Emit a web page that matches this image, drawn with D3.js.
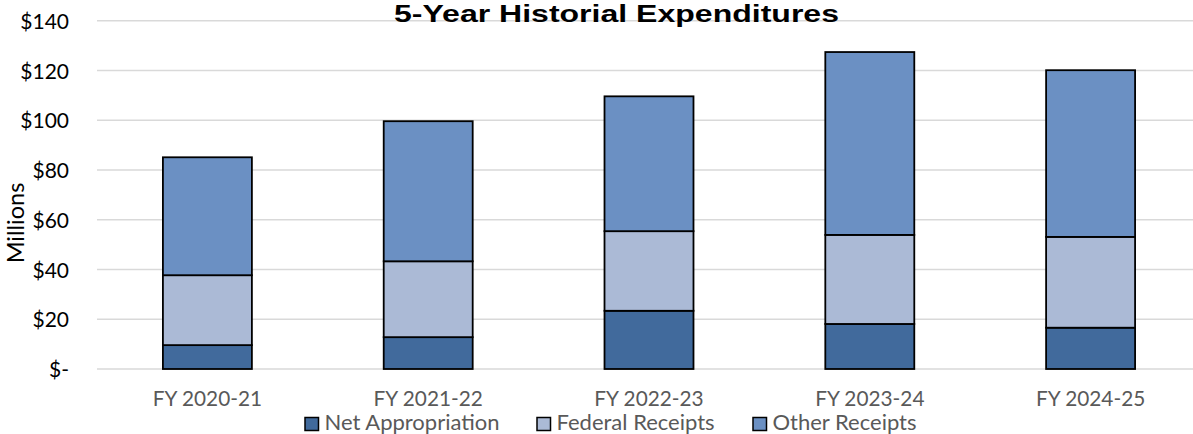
<!DOCTYPE html>
<html>
<head>
<meta charset="utf-8">
<script src="https://cdn.jsdelivr.net/npm/d3@7"></script>
<style>
  html, body { margin: 0; padding: 0; background: #fff; }
  svg { display: block; font-family: Lato, "Open Sans", sans-serif; }
</style>
</head>
<body>
<svg id="chart" width="1193" height="434"></svg>
<script>
const title = "5-Year Historial Expenditures";
const yAxisTitle = "Millions";
const categories = ["FY 2020-21", "FY 2021-22", "FY 2022-23", "FY 2023-24", "FY 2024-25"];
const seriesNames = ["Net Appropriation", "Federal Receipts", "Other Receipts"];
const netAppropriation = [9.6, 12.8, 23.4, 18.1, 16.6];
const federalReceipts = [28.1, 30.5, 32.0, 35.8, 36.5];
const otherReceipts = [47.4, 56.3, 54.2, 73.5, 67.0];
const yTicks = [0, 20, 40, 60, 80, 100, 120, 140];
const colors = ["#416a9c", "#abbad6", "#6b90c3"];

const svg = d3.select("#chart");

const x = d3.scaleBand()
  .domain(categories)
  .range([97, 1201])
  .paddingInner(0.597)
  .paddingOuter(0.2985);

const y = d3.scaleLinear().domain([0, 140]).range([369, 20.7]);

// gridlines
svg.append("g")
  .selectAll("line")
  .data(yTicks)
  .join("line")
  .attr("x1", 97).attr("x2", 1201)
  .attr("y1", d => y(d)).attr("y2", d => y(d))
  .attr("stroke", "#d9d9d9")
  .attr("stroke-width", 1.5);

// y axis labels
const yAxis = d3.axisLeft(y)
  .tickValues(yTicks)
  .tickSize(0)
  .tickPadding(0)
  .tickFormat(d => d === 0 ? "$-" : "$" + d);
const gy = svg.append("g").attr("transform", "translate(69,0)").call(yAxis);
gy.select(".domain").remove();
gy.selectAll("text")
  .attr("font-size", 21)
  .attr("fill", "#000")
  .attr("font-family", "Lato, sans-serif")
  .attr("dy", "0.36em");

// x axis labels
const xAxis = d3.axisBottom(x).tickSize(0).tickPadding(0);
const gx = svg.append("g").attr("transform", "translate(0,406)").call(xAxis);
gx.select(".domain").remove();
gx.selectAll("text")
  .attr("font-size", 20.8)
  .attr("fill", "#595959")
  .attr("font-family", "Lato, sans-serif")
  .attr("dy", 0)
  .attr("y", 0);

// stacked bars
const rows = categories.map((c, i) => ({
  cat: c,
  [seriesNames[0]]: netAppropriation[i],
  [seriesNames[1]]: federalReceipts[i],
  [seriesNames[2]]: otherReceipts[i]
}));
const stack = d3.stack().keys(seriesNames)(rows);

svg.append("g")
  .selectAll("g")
  .data(stack)
  .join("g")
  .attr("fill", (d, i) => colors[i])
  .selectAll("rect")
  .data(d => d)
  .join("rect")
  .attr("x", d => x(d.data.cat))
  .attr("width", x.bandwidth())
  .attr("y", d => y(d[1]))
  .attr("height", d => y(d[0]) - y(d[1]))
  .attr("stroke", "#000")
  .attr("stroke-width", 1.8);

// title
svg.append("text")
  .attr("x", 616.5)
  .attr("y", 22)
  .attr("text-anchor", "middle")
  .attr("font-family", "'Liberation Sans', Arial, sans-serif")
  .attr("font-size", 24)
  .attr("font-weight", "bold")
  .attr("fill", "#000")
  .attr("textLength", 445)
  .attr("lengthAdjust", "spacingAndGlyphs")
  .text(title);

// y axis title
svg.append("text")
  .attr("transform", "translate(24,223) rotate(-90)")
  .attr("text-anchor", "middle")
  .attr("font-size", 23.5)
  .attr("fill", "#000")
  .text(yAxisTitle);

// legend
const legendX = [305, 537, 753];
const lg = svg.append("g")
  .selectAll("g")
  .data(seriesNames)
  .join("g")
  .attr("transform", (d, i) => `translate(${legendX[i]},0)`);
lg.append("rect")
  .attr("x", 0).attr("y", 417.5)
  .attr("width", 13.5).attr("height", 13)
  .attr("fill", (d, i) => colors[i])
  .attr("stroke", "#000")
  .attr("stroke-width", 1.5);
lg.append("text")
  .attr("x", 19.5).attr("y", 430)
  .attr("font-size", 22)
  .attr("fill", "#595959")
  .text(d => d);
</script>
</body>
</html>
